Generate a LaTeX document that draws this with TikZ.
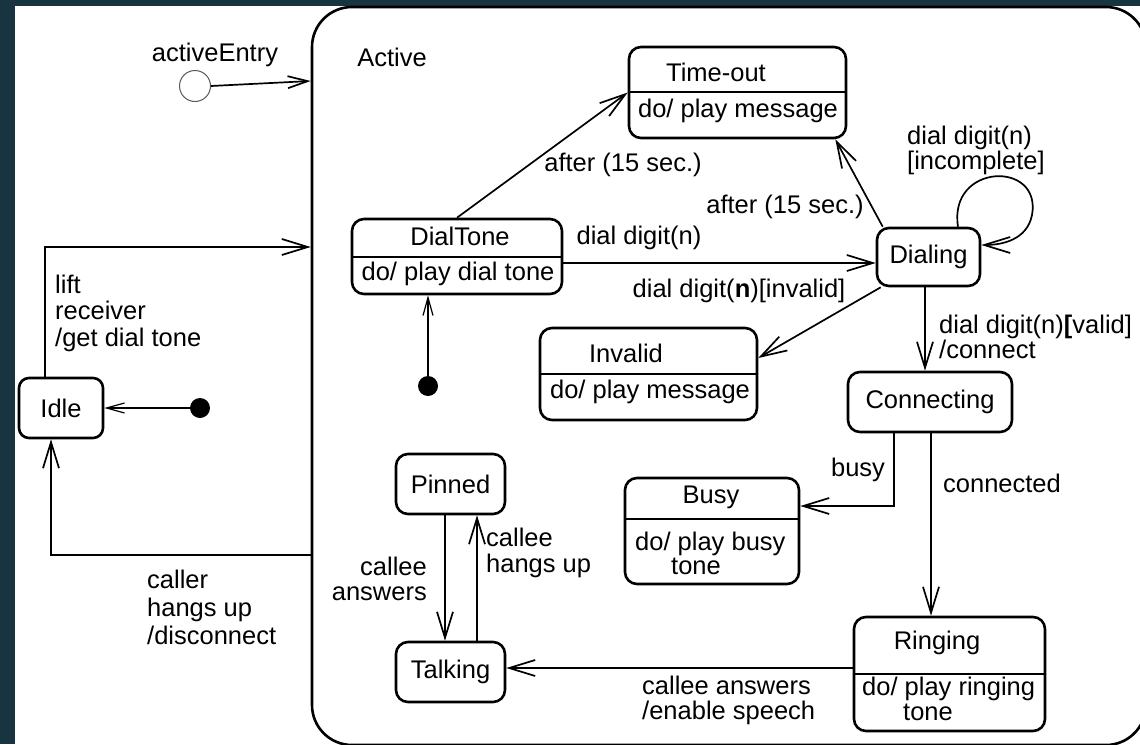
\documentclass[tikz,border=0pt]{standalone}
\usepackage{fontspec}
\setmainfont{Liberation Sans}
\usetikzlibrary{arrows.meta,calc}
\definecolor{bgdark}{RGB}{23,52,64}
\begin{document}
\begin{tikzpicture}[x=1pt,y=-1pt,
  every node/.style={font=\fontsize{25.5}{25}\selectfont, inner sep=0pt},
  statebox/.style={draw, line width=2.6pt, rounded corners=12pt},
  divider/.style={line width=2pt},
  trans/.style={line width=1.7pt, -{Straight Barb[length=26pt,width=16pt]}},
  shorttrans/.style={line width=1.7pt, -{Straight Barb[length=20pt,width=12pt]}},
  thintrans/.style={line width=1.2pt, -{Straight Barb[length=18pt,width=10pt]}},
  initdot/.style={circle, fill=black, minimum size=20pt},
  lbl/.style={align=left},
]
\useasboundingbox (0,0) rectangle (1140,744);
\fill[bgdark] (0,0) rectangle (1140,744);
\fill[white] (15,6) rectangle (1140,744);

% composite state
\node[draw, line width=2.6pt, rounded corners=40pt, minimum width=834pt, minimum height=738pt] (active) at (729,376) {};
\node (activelbl) at (392,57) {Active};

% entry point
\node (entrylbl) at (215,55) {activeEntry};
\node[circle, draw=gray!70!black, line width=1pt, minimum size=31pt] (entry) at (195,86) {};

% simple states
\node[statebox, minimum width=84pt, minimum height=60pt, rounded corners=10pt] (idle) at (61,408) {Idle};
\node[statebox, minimum width=103pt, minimum height=58pt] (dl) at (928.5,257) {Dialing};
\node[statebox, minimum width=164pt, minimum height=60pt] (cn) at (930,402) {Connecting};
\node[statebox, minimum width=109pt, minimum height=60pt] (pn) at (450.5,484) {Pinned};
\node[statebox, minimum width=109pt, minimum height=60pt] (tk) at (450.5,672) {Talking};

% compartment states
\node[statebox, minimum width=210pt, minimum height=75pt] (dt) at (457,256.5) {};
\draw[divider] (dt.west |- 0,257) -- (dt.east |- 0,257);
\node (dttitle) at (460,236) {DialTone};
\node (dtbody) at (458,274) {do/ play dial tone};

\node[statebox, minimum width=217pt, minimum height=91pt] (to) at (737.5,92.5) {};
\draw[divider] (to.west |- 0,92) -- (to.east |- 0,92);
\node (totitle) at (716,72) {Time-out};
\node (tobody) at (738,111) {do/ play message};

\node[statebox, minimum width=217pt, minimum height=92pt] (inv) at (648.5,374) {};
\draw[divider] (inv.west |- 0,374) -- (inv.east |- 0,374);
\node (invtitle) at (626,353) {Invalid};
\node (invbody) at (650,392) {do/ play message};

\node[statebox, minimum width=174pt, minimum height=106pt] (busy) at (712,531) {};
\draw[divider] (busy.west |- 0,519) -- (busy.east |- 0,519);
\node (busytitle) at (711,497) {Busy};
\node[lbl, anchor=west, font=\fontsize{25.5}{24}\selectfont] (busybody) at (635,553) {do/ play busy\\\hspace*{36pt}tone};

\node[statebox, minimum width=191pt, minimum height=114pt] (rg) at (949.5,674) {};
\draw[divider] (rg.west |- 0,674) -- (rg.east |- 0,674);
\node (rgtitle) at (937,643) {Ringing};
\node[lbl, anchor=west, font=\fontsize{25.5}{25}\selectfont] (rgbody) at (862,699) {do/ play ringing\\\hspace*{41pt}tone};

% initial pseudostates
\node[initdot] (i1) at (200,408) {};
\node[initdot] (i2) at (428,386) {};

% transitions
\draw[shorttrans] (entry.east) -- (active.west |- 0,81);
\draw[trans] (idle.north -| 45,0) |- (active.west |- 0,247);
\draw[trans] (active.west |- 0,555) -| (idle.south -| 51,0);
\draw[thintrans] (i1) -- (idle.east);
\draw[thintrans] (i2) -- (dt.south -| i2);
\draw[trans] (dt.north) -- (to.west);
\draw[trans] ([xshift=7pt]dl.north west) -- ([xshift=-12pt]to.south east);
\draw[trans] ([xshift=29.5pt]dl.north) .. controls (948,163) and (1042,160) .. (1032,215) .. controls (1027,240) and (1002,245) .. ([yshift=12pt]dl.east);
\draw[trans] (dt.east |- 0,263) -- (dl.west |- 0,263);
\draw[trans] ([xshift=5pt]dl.south west) -- (inv.east |- 0,358);
\draw[trans] (dl.south -| 925,0) -- (cn.north -| 925,0);
\draw[trans] (cn.south -| 894,0) |- (busy.east |- 0,506);
\draw[trans] (cn.south -| 931,0) -- (rg.north -| 931,0);
\draw[trans] (rg.west |- 0,668) -- (tk.east |- 0,668);
\draw[trans] (pn.south -| 445,0) -- (tk.north -| 445,0);
\draw[trans] (tk.north -| 477,0) -- (pn.south -| 477,0);

% labels
\node[lbl, anchor=west, font=\fontsize{25.5}{26.5}\selectfont] (liftlbl) at (55,313) {lift\\receiver\\/get dial tone};
\node[lbl, anchor=west, font=\fontsize{25.5}{28}\selectfont] (callerlbl) at (147,607) {caller\\hangs up\\/disconnect};
\node (after1) at (623,165) {after (15 sec.)};
\node (after2) at (785,207) {after (15 sec.)};
\node[lbl, anchor=west] (incomplbl) at (907,150) {dial digit(n)\\{[incomplete]}};
\node (dd1) at (639,238) {dial digit(n)};
\node (ddinv) at (739,291) {dial digit(\textbf{n})[invalid]};
\node[lbl, anchor=west] (ddvalid) at (939,337) {dial digit(n)\textbf{[}valid]\\/connect};
\node (busylbl) at (858,470) {busy};
\node (connlbl) at (1002,483) {connected};
\node[lbl, anchor=west] (speechlbl) at (642,700) {callee answers\\/enable speech};
\node[align=right, anchor=east] (answlbl) at (427,579) {callee\\answers};
\node[lbl, anchor=west, font=\fontsize{25.5}{26}\selectfont] (hanglbl) at (486,553) {callee\\hangs up};
\end{tikzpicture}
\end{document}
